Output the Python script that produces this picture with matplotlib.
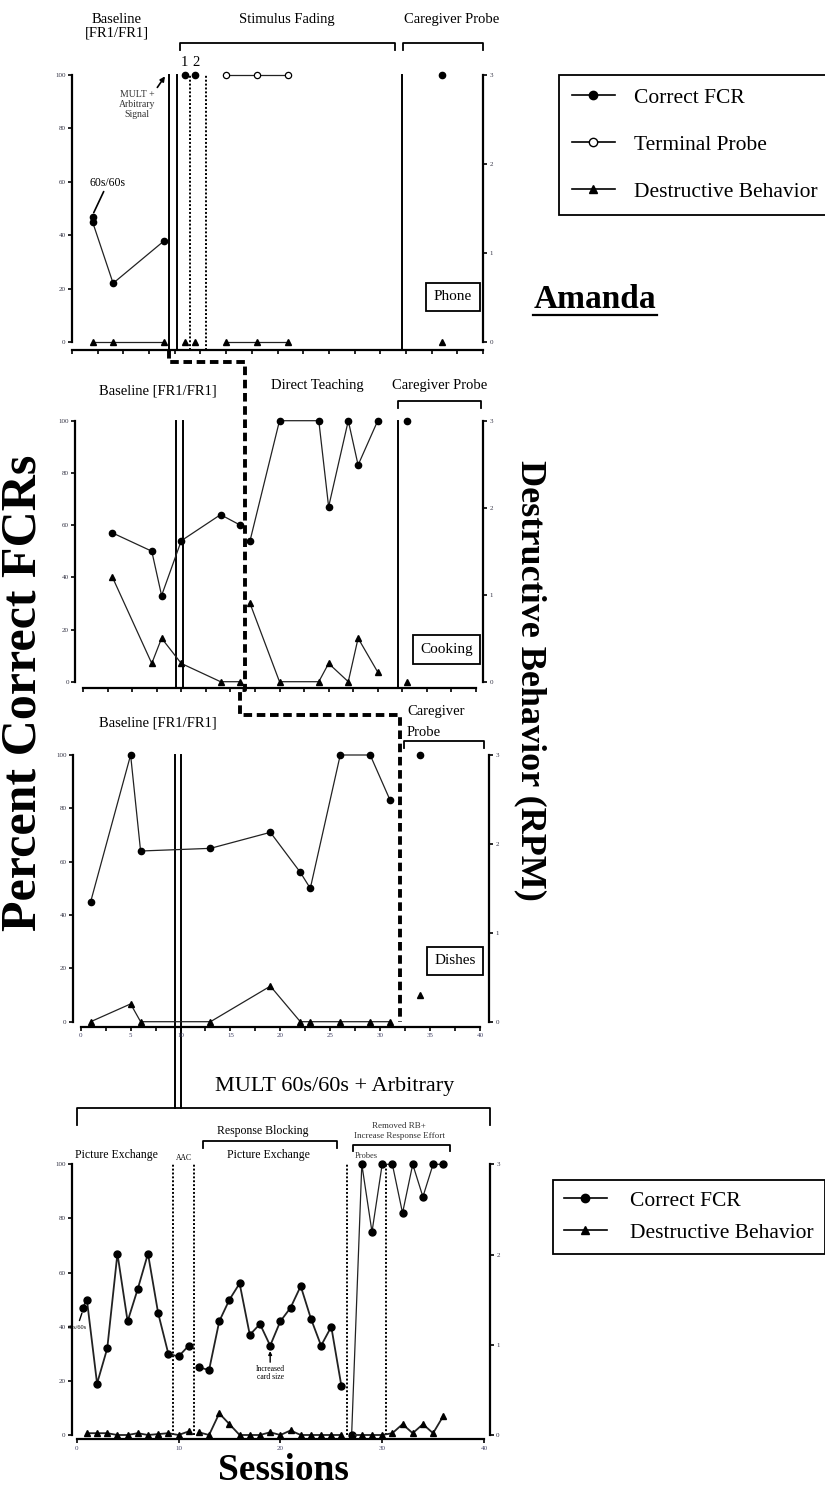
import matplotlib
matplotlib.use('Agg')
import matplotlib.pyplot as plt
from matplotlib.lines import Line2D
from matplotlib.ticker import MultipleLocator

plt.rcParams['font.family'] = ['Liberation Serif', 'DejaVu Serif']

W, H = 825, 1490

# ---------------- data ----------------
# Panel 1: Phone
p1_bl_x = [2, 2, 4, 9]
p1_bl_fcr = [47, 45, 22, 38]
p1_bl_db_x = [2, 4, 9]
p1_bl_db = [0, 0, 0]
p1_sf_x = [11, 12]
p1_sf_fcr = [100, 100]
p1_sf_db = [0, 0]
p1_tp_x = [15, 18, 21]
p1_tp = [100, 100, 100]
p1_tp_db = [0, 0, 0]
p1_cg_x = [36]
p1_cg_fcr = [100]
p1_cg_db = [0]
p1_phase_solid = [9.4, 10.2, 32.1]
p1_phase_dotted = [11.5, 13.0]

# Panel 2: Cooking
p2_bl_x = [3, 7, 8, 10, 14, 16]
p2_bl_fcr = [57, 50, 33, 54, 64, 60]
p2_bl_db = [1.2, 0.21, 0.5, 0.21, 0, 0]
p2_dt_x = [17, 20, 24, 25, 27, 28, 30]
p2_dt_fcr = [54, 100, 100, 67, 100, 83, 100]
p2_dt_db = [0.9, 0, 0, 0.21, 0, 0.5, 0.11]
p2_cg_x = [33]
p2_cg_fcr = [100]
p2_cg_db = [0]
p2_phase_double = [9.5, 10.2]
p2_phase_solid = [32.1]
p2_phase_dashed = 16.5

# Panel 3: Dishes
p3_bl_x = [1, 5, 6, 13, 19, 22, 23, 26, 29, 31]
p3_bl_fcr = [45, 100, 64, 65, 71, 56, 50, 100, 100, 83]
p3_bl_db = [0, 0.2, 0, 0, 0.4, 0, 0, 0, 0, 0]
p3_cg_x = [34]
p3_cg_fcr = [100]
p3_cg_db = [0.3]
p3_phase_double = [9.45, 10.05]
p3_phase_dashed = 32.0

# Panel 4: MULT 60s/60s + Arbitrary
p4_a_x = [0.6, 1, 2, 3, 4, 5, 6, 7, 8, 9, 10, 11]
p4_a_fcr = [47, 50, 19, 32, 67, 42, 54, 67, 45, 30, 29, 33]
p4_a_db_x = [1, 2, 3, 4, 5, 6, 7, 8, 9, 10, 11]
p4_a_db = [0.02, 0.02, 0.02, 0, 0, 0.02, 0, 0.01, 0.02, 0, 0.04]
p4_b_x = [12, 13, 14, 15, 16, 17, 18, 19, 20, 21, 22, 23, 24, 25, 26]
p4_b_fcr = [25, 24, 42, 50, 56, 37, 41, 33, 42, 47, 55, 43, 33, 40, 18]
p4_b_db = [0.03, 0, 0.24, 0.12, 0, 0, 0, 0.03, 0, 0.05, 0, 0, 0, 0, 0]
p4_c_x = [27, 28, 29, 30, 31, 32, 33, 34, 35, 36]
p4_c_fcr = [0, 100, 75, 100, 100, 82, 100, 88, 100, 100]
p4_c_db = [0, 0, 0, 0, 0.02, 0.12, 0.02, 0.12, 0.02, 0.21]
p4_phase_dotted = [9.5, 11.5, 26.5, 30.4]

left_ticks = [0, 20, 40, 60, 80, 100]
right_ticks = [0, 1, 2, 3]

# ---------------- figure ----------------
fig = plt.figure(figsize=(W / 100, H / 100), dpi=100)
ov = fig.add_axes([0, 0, 1, 1], zorder=0)
ov.set_xlim(0, W)
ov.set_ylim(H, 0)
ov.axis('off')

LC = '#222222'


def make_panel(x0, x40, y0, y100, offl, offb, offr, labels, minor=True):
    ax = fig.add_axes([x0 / W, 1 - y0 / H, (x40 - x0) / W, (y0 - y100) / H], zorder=2)
    ax.patch.set_alpha(0)
    ax.set_xlim(0, 40)
    ax.set_ylim(0, 100)
    for s in ['top', 'right']:
        ax.spines[s].set_visible(False)
    ax.spines['left'].set_position(('outward', offl * 0.72))
    ax.spines['bottom'].set_position(('outward', offb * 0.72))
    ax.spines['left'].set_bounds(0, 100)
    ax.spines['bottom'].set_bounds(0, 40)
    for s in ['left', 'bottom']:
        ax.spines[s].set_linewidth(1.6)
    ax.set_yticks(left_ticks)
    ax.set_yticklabels([str(t) for t in left_ticks], fontsize=5, color='#334')
    if minor:
        ax.xaxis.set_major_locator(MultipleLocator(5))
        ax.xaxis.set_minor_locator(MultipleLocator(2.5))
    else:
        ax.xaxis.set_major_locator(MultipleLocator(10))
    ax.tick_params(axis='both', which='both', direction='out', length=3, width=1.2, pad=1.5)
    if labels:
        ax.tick_params(axis='x', labelsize=5, labelcolor='#446')
    else:
        ax.tick_params(axis='x', labelbottom=False)
    ax2 = ax.twinx()
    ax2.set_zorder(3)
    ax2.patch.set_alpha(0)
    ax2.set_ylim(0, 3)
    for s in ['top', 'left', 'bottom']:
        ax2.spines[s].set_visible(False)
    ax2.spines['right'].set_position(('outward', offr * 0.72))
    ax2.spines['right'].set_bounds(0, 3)
    ax2.spines['right'].set_linewidth(1.6)
    ax2.set_yticks(right_ticks)
    ax2.set_yticklabels([str(t) for t in right_ticks], fontsize=5, color='#334')
    ax2.tick_params(axis='y', direction='out', length=3, width=1.2, pad=1.5)
    return ax, ax2


def pix(ax, x, y):
    d = ax.transData.transform((x, y))
    return d[0], H - d[1]


def vline(ax, x, y1, y2, ls='-', lw=1.4, color='k'):
    ax.plot([x, x], [y1, y2], color=color, lw=lw, ls=ls, clip_on=False, zorder=1)


def bracket(x1, x2, y, drop):
    ov.plot([x1, x1, x2, x2], [y + drop, y, y, y + drop], color='k', lw=1.3)


def label_box(x, y, s):
    ov.text(x, y, s, ha='center', va='center', fontsize=11,
            bbox=dict(boxstyle='square,pad=0.5', fc='white', ec='k', lw=1.3))


fcr_kw = dict(color=LC, lw=0.9, marker='o', ms=4.5, mfc='k', mec='k', clip_on=False, zorder=5)
db_kw = dict(color=LC, lw=0.9, marker='^', ms=4.5, mfc='k', mec='k', clip_on=False, zorder=5)
tp_kw = dict(color=LC, lw=0.9, marker='o', ms=4.5, mfc='white', mec='k', mew=0.9, clip_on=False, zorder=5)

# ---------- Panel 1 ----------
a1, b1 = make_panel(72, 483, 342, 75, 0, 8, 0, False)
a1.plot(p1_bl_x, p1_bl_fcr, **fcr_kw)
b1.plot(p1_bl_db_x, p1_bl_db, **db_kw)
for xv, fv, dv in zip(p1_sf_x, p1_sf_fcr, p1_sf_db):
    a1.plot([xv], [fv], **fcr_kw)
    b1.plot([xv], [dv], **db_kw)
a1.plot(p1_tp_x, p1_tp, **tp_kw)
b1.plot(p1_tp_x, p1_tp_db, **db_kw)
a1.plot(p1_cg_x, p1_cg_fcr, **fcr_kw)
b1.plot(p1_cg_x, p1_cg_db, **db_kw)
for xv in p1_phase_solid:
    vline(a1, xv, -3, 100)
for xv in p1_phase_dotted:
    vline(a1, xv, -3, 100, ls=(0, (1, 1)), lw=1.4)
a1.annotate('60s/60s', xy=(2, 47.5), xytext=(11, 19), textcoords='offset points',
            fontsize=8.5, ha='center', va='bottom',
            arrowprops=dict(arrowstyle='-', color='k', lw=1.2, shrinkA=0, shrinkB=2))
a1.annotate('MULT +\nArbitrary\nSignal', xy=(9.05, 99.5), xytext=(-20, -10), textcoords='offset points',
            fontsize=7, ha='center', va='top', linespacing=1.1, color='#333',
            arrowprops=dict(arrowstyle='-|>', color='k', lw=1.2, mutation_scale=7,
                            shrinkA=0, shrinkB=0, relpos=(1.0, 1.0)))

ov.text(117, 26, 'Baseline\n[FR1/FR1]', ha='center', va='center', fontsize=10.5, linespacing=1.05)
ov.text(287, 19, 'Stimulus Fading', ha='center', va='center', fontsize=10.5)
ov.text(452, 19, 'Caregiver Probe', ha='center', va='center', fontsize=10.5)
bracket(180, 395, 43, 7)
bracket(403, 483, 43, 7)
ov.text(184, 62, '1', ha='center', va='center', fontsize=10.5)
ov.text(196, 62, '2', ha='center', va='center', fontsize=10.5)
label_box(453, 297, 'Phone')

# ---------- Panel 2 ----------
a2, b2 = make_panel(83, 476, 681.7, 420.7, 8, 6.3, 7, False)
a2.plot(p2_bl_x, p2_bl_fcr, **fcr_kw)
b2.plot(p2_bl_x, p2_bl_db, **db_kw)
a2.plot(p2_dt_x, p2_dt_fcr, **fcr_kw)
b2.plot(p2_dt_x, p2_dt_db, **db_kw)
a2.plot(p2_cg_x, p2_cg_fcr, **fcr_kw)
b2.plot(p2_cg_x, p2_cg_db, **db_kw)
for xv in p2_phase_double:
    vline(a2, xv, -2.5, 100)
for xv in p2_phase_solid:
    vline(a2, xv, -2.5, 100)
ov.text(158, 391, 'Baseline [FR1/FR1]', ha='center', va='center', fontsize=10.5)
ov.text(317, 385, 'Direct Teaching', ha='center', va='center', fontsize=10.5)
ov.text(440, 385, 'Caregiver Probe', ha='center', va='center', fontsize=10.5)
bracket(398, 481, 401, 7)
label_box(446.5, 649.5, 'Cooking')

# ---------- Panel 3 ----------
a3, b3 = make_panel(80.7, 480, 1021.7, 755, 8, 5.3, 9, True)
a3.plot(p3_bl_x, p3_bl_fcr, **fcr_kw)
b3.plot(p3_bl_x, p3_bl_db, **db_kw)
a3.plot(p3_cg_x, p3_cg_fcr, **fcr_kw)
b3.plot(p3_cg_x, p3_cg_db, **db_kw)
ov.text(158, 723, 'Baseline [FR1/FR1]', ha='center', va='center', fontsize=10.5)
ov.text(407, 712, 'Caregiver', ha='left', va='center', fontsize=10.5)
ov.text(407, 732, 'Probe', ha='left', va='center', fontsize=10.5)
bracket(404, 484, 741, 7)
label_box(455, 961, 'Dishes')

# ---------- Panel 4 ----------
a4, b4 = make_panel(76.7, 484, 1435, 1164.3, 5, 4.3, 6, True, minor=False)
k4f = dict(fcr_kw, lw=1.3, ms=5)
k4d = dict(db_kw, lw=1.3, ms=5)
a4.plot(p4_a_x, p4_a_fcr, **k4f)
b4.plot(p4_a_db_x, p4_a_db, **k4d)
a4.plot(p4_b_x, p4_b_fcr, **k4f)
b4.plot(p4_b_x, p4_b_db, **k4d)
a4.plot(p4_c_x, p4_c_fcr, **dict(k4f, lw=0.9))
b4.plot(p4_c_x, p4_c_db, **k4d)
for xv in p4_phase_dotted:
    vline(a4, xv, 0, 100, ls=(0, (1, 1)), lw=1.4)
a4.tick_params(axis='x', labelsize=5)

ov.text(335, 1087, 'MULT 60s/60s + Arbitrary', ha='center', va='center', fontsize=16)
bracket(76.7, 490, 1108, 17)
ov.text(263, 1131, 'Response Blocking', ha='center', va='center', fontsize=8.5)
bracket(203, 337, 1141, 7)
ov.text(116.7, 1155, 'Picture Exchange', ha='center', va='center', fontsize=8.5)
ov.text(268, 1155, 'Picture Exchange', ha='center', va='center', fontsize=8.5)
ov.text(184, 1158, 'AAC', ha='center', va='center', fontsize=5.5)
ov.text(399, 1126, 'Removed RB+', ha='center', va='center', fontsize=6.5, color='#333')
ov.text(399, 1136, 'Increase Response Effort', ha='center', va='center', fontsize=6.5, color='#333')
bracket(352.7, 450, 1145, 6)
ov.text(366, 1156, 'Probes', ha='center', va='center', fontsize=6, color='#333')
a4.annotate('60s/60s', xy=(0.6, 46), xytext=(-4, -12), textcoords='offset points',
            fontsize=4.5, ha='center', va='center',
            arrowprops=dict(arrowstyle='-', color='k', lw=1.0, shrinkA=1, shrinkB=2))
a4.annotate('Increased\ncard size', xy=(19, 31), xytext=(0, -10), textcoords='offset points',
            fontsize=5.5, ha='center', va='top', linespacing=1.0,
            arrowprops=dict(arrowstyle='-|>', color='k', lw=1.0, mutation_scale=5, shrinkA=0, shrinkB=0))

# double lines running from panel 3 down to MULT bracket
for xv in p3_phase_double:
    x_, yt = pix(a3, xv, 100)
    ov.plot([x_, x_], [yt, 1108], color='k', lw=1.4)

# ---------- dashed connector ----------
sx1, sy1 = pix(a1, p1_phase_solid[0], 0)
sx2, sy2 = pix(a2, p2_phase_dashed, 100)
_, sy2b = pix(a2, p2_phase_dashed, 0)
sx3, sy3 = pix(a3, p3_phase_dashed, 0)
path_x = [sx1, sx1, sx2, sx2, sx2 - 5, sx2 - 5, sx3, sx3]
path_y = [sy1 + 8, 362, 362, sy2b + 8, sy2b + 8, 715, 715, sy3]
ov.plot(path_x, path_y, color='k', lw=2.8, ls=(0, (2.2, 1.2)))

# ---------- big labels ----------
ov.text(24, 693, 'Percent Correct FCRs', rotation=90, ha='center', va='center',
        fontsize=36, fontweight='bold')
ov.text(530, 680, 'Destructive Behavior (RPM)', rotation=-90, ha='center', va='center',
        fontsize=26, fontweight='bold')
ov.text(595, 300, 'Amanda', ha='center', va='center', fontsize=24, fontweight='bold')
ov.plot([533, 657], [315, 315], color='k', lw=1.6)
ov.text(283, 1470, 'Sessions', ha='center', va='center', fontsize=27, fontweight='bold')

# ---------- legends ----------
h_fcr = Line2D([], [], color='k', lw=1.2, marker='o', ms=6, mfc='k', mec='k')
h_tp = Line2D([], [], color='k', lw=1.2, marker='o', ms=6, mfc='white', mec='k')
h_db = Line2D([], [], color='k', lw=1.2, marker='^', ms=6, mfc='k', mec='k')

leg1 = fig.legend([h_fcr, h_tp, h_db], ['Correct FCR', 'Terminal Probe', 'Destructive Behavior'],
                  loc='upper left', bbox_to_anchor=(559 / W, 1 - 75 / H), fontsize=15.5,
                  frameon=True, fancybox=False, edgecolor='k', framealpha=1,
                  borderpad=0.6, labelspacing=1.25, handlelength=2.0, handletextpad=0.9,
                  borderaxespad=0)
leg1.get_frame().set_linewidth(1.3)

leg2 = fig.legend([h_fcr, h_db], ['Correct FCR', 'Destructive Behavior'],
                  loc='upper left', bbox_to_anchor=(553 / W, 1 - 1180 / H), fontsize=15.5,
                  frameon=True, fancybox=False, edgecolor='k', framealpha=1,
                  borderpad=0.5, labelspacing=0.55, handlelength=2.0, handletextpad=1.1,
                  borderaxespad=0)
leg2.get_frame().set_linewidth(1.3)

fig.savefig('out.png', dpi=100, facecolor='white')
